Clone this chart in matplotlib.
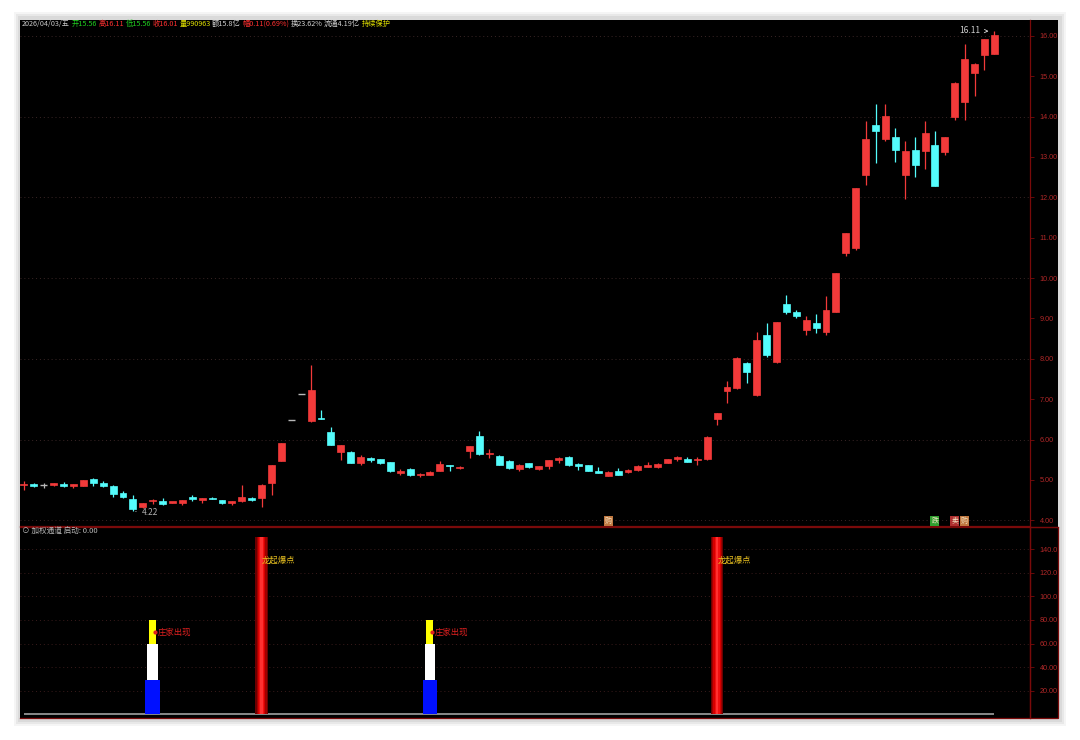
import matplotlib
matplotlib.use("Agg")
import matplotlib.pyplot as plt
from matplotlib.patches import Rectangle

plt.rcParams['font.family'] = ['Noto Sans CJK SC', 'DejaVu Sans']

# ---------------- data ----------------
opens = [4.87, 4.91, 4.87, 4.87, 4.91, 4.86, 4.86, 5.03, 4.92, 4.86,
         4.67, 4.52, 4.33, 4.47, 4.48, 4.44, 4.44, 4.55, 4.50, 4.56,
         4.50, 4.44, 4.47, 4.56, 4.55, 4.93, 5.48, 6.48, 7.14, 6.46,
         6.53, 6.19, 5.69, 5.69, 5.43, 5.55, 5.51, 5.44, 5.18, 5.27,
         5.12, 5.13, 5.22, 5.35, 5.29, 5.71, 6.10, 5.64, 5.60, 5.47,
         5.27, 5.42, 5.27, 5.35, 5.50, 5.57, 5.39, 5.37, 5.19, 5.11,
         5.22, 5.20, 5.25, 5.33, 5.32, 5.43, 5.53, 5.53, 5.49, 5.52,
         6.50, 7.20, 7.28, 7.89, 7.10, 8.59, 7.92, 9.36, 9.16, 8.71,
         8.88, 8.67, 9.16, 10.62, 10.74, 12.55, 13.79, 13.44, 13.49, 12.55,
         13.17, 13.14, 13.29, 13.12, 13.99, 14.36, 15.07, 15.52, 15.56]
highs = [4.97, 4.93, 4.92, 4.93, 4.95, 4.90, 5.00, 5.04, 4.97, 4.87,
         4.72, 4.62, 4.43, 4.54, 4.56, 4.46, 4.51, 4.63, 4.56, 4.58,
         4.51, 4.48, 4.87, 4.58, 4.89, 5.38, 5.92, 6.48, 7.14, 7.85,
         6.73, 6.31, 5.87, 5.71, 5.62, 5.56, 5.52, 5.45, 5.27, 5.29,
         5.17, 5.21, 5.46, 5.36, 5.34, 5.85, 6.22, 5.76, 5.61, 5.50,
         5.39, 5.43, 5.35, 5.50, 5.56, 5.59, 5.41, 5.38, 5.33, 5.21,
         5.29, 5.26, 5.36, 5.45, 5.43, 5.52, 5.60, 5.56, 5.57, 6.08,
         6.67, 7.45, 8.05, 7.93, 8.66, 8.88, 8.92, 9.58, 9.20, 9.05,
         9.10, 9.55, 10.13, 11.12, 12.24, 13.90, 14.30, 14.30, 13.72, 13.40,
         13.50, 13.90, 13.65, 13.50, 14.85, 15.79, 15.32, 15.93, 16.11]
lows = [4.76, 4.82, 4.80, 4.84, 4.82, 4.80, 4.85, 4.84, 4.83, 4.58,
        4.55, 4.22, 4.31, 4.41, 4.39, 4.43, 4.38, 4.47, 4.43, 4.52,
        4.40, 4.38, 4.46, 4.49, 4.34, 4.62, 5.46, 6.48, 7.14, 6.44,
        6.52, 5.86, 5.50, 5.42, 5.37, 5.45, 5.40, 5.20, 5.13, 5.10,
        5.07, 5.12, 5.21, 5.21, 5.28, 5.54, 5.63, 5.55, 5.36, 5.27,
        5.22, 5.30, 5.24, 5.28, 5.43, 5.35, 5.25, 5.21, 5.17, 5.10,
        5.12, 5.18, 5.23, 5.32, 5.30, 5.42, 5.46, 5.44, 5.37, 5.50,
        6.37, 6.90, 7.25, 7.40, 7.08, 8.05, 7.90, 9.10, 9.00, 8.60,
        8.65, 8.60, 9.15, 10.55, 10.70, 12.30, 12.85, 13.40, 12.87, 11.95,
        12.50, 12.70, 12.28, 13.05, 13.92, 13.92, 14.51, 15.15, 15.56]
closes = [4.88, 4.84, 4.87, 4.92, 4.84, 4.90, 4.99, 4.92, 4.84, 4.65,
          4.58, 4.28, 4.42, 4.48, 4.40, 4.45, 4.50, 4.54, 4.55, 4.53,
          4.42, 4.47, 4.58, 4.51, 4.88, 5.37, 5.91, 6.48, 7.14, 7.22,
          6.51, 5.87, 5.86, 5.43, 5.57, 5.49, 5.41, 5.22, 5.19, 5.12,
          5.13, 5.19, 5.40, 5.34, 5.33, 5.84, 5.64, 5.65, 5.37, 5.29,
          5.37, 5.31, 5.34, 5.49, 5.55, 5.37, 5.34, 5.22, 5.18, 5.20,
          5.13, 5.25, 5.34, 5.37, 5.40, 5.51, 5.54, 5.45, 5.50, 6.07,
          6.65, 7.30, 8.03, 7.67, 8.46, 8.09, 8.91, 9.16, 9.06, 8.96,
          8.76, 9.21, 10.12, 11.11, 12.23, 13.44, 13.64, 14.01, 13.17, 13.14,
          12.80, 13.59, 12.28, 13.49, 14.83, 15.42, 15.30, 15.92, 16.01]

# indicator panel
stack_idx = [13, 41]
blue_vals = [29, 29]
white_vals = [31, 31]
yellow_vals = [20, 20]
stack_label = "庄家出现"
burst_idx = [24, 70]
burst_vals = [150, 150]
burst_label = "龙起爆点"

price_ticks = [4, 5, 6, 7, 8, 9, 10, 11, 12, 13, 14, 15, 16]
ind_ticks = [20, 40, 60, 80, 100, 120, 140]
ind_tick_labels = ["20.00", "40.00", "60.00", "80.00", "100.0", "120.0", "140.0"]

signal_idx = [59, 92, 94, 95]
signal_txt = ["购", "跌", "卖", "购"]
signal_col = ["#c07840", "#30a030", "#b03030", "#c07840"]

header = [("2026/04/03/五", "#c8c8c8"), ("开15.56", "#20d020"),
          ("高16.11", "#ff3030"), ("低15.56", "#20d020"),
          ("收16.01", "#ff3030"), ("量990963", "#e0e000"),
          ("额15.8亿", "#d0d0d0"), ("幅0.11(0.69%)", "#ff3030"),
          ("换23.62%", "#d0d0d0"), ("流通4.19亿", "#d0d0d0"),
          ("持续保护", "#e0e000")]

# ---------------- figure ----------------
W, H = 1080, 740
fig = plt.figure(figsize=(W / 100, H / 100), dpi=100, facecolor="white")


def fx(px):
    return px / W


def fy(py):
    return 1 - py / H


# shadow + black panel
for k, a in enumerate([0.04, 0.05, 0.06]):
    d = (3 - k) * 2
    fig.patches.append(Rectangle((fx(20 - d), fy(720 + d)), (1040 + 2 * d) / W,
                                 (702 + 2 * d) / H, transform=fig.transFigure,
                                 facecolor="black", alpha=a, edgecolor="none", zorder=-3))
fig.patches.append(Rectangle((fx(20), fy(718)), 1038 / W, 698 / H, transform=fig.transFigure,
                             facecolor="black", edgecolor="none", zorder=-2))

ax = fig.add_axes([fx(20), fy(526), 1010 / W, 506 / H])
ax2 = fig.add_axes([fx(20), fy(718), 1010 / W, 191 / H])

dark_red = "#7a0a0a"
lab_red = "#b02828"
for a in (ax, ax2):
    a.set_zorder(1)
    a.set_facecolor("black")
    for s in a.spines.values():
        s.set_color(dark_red)
        s.set_linewidth(0.9)
    a.spines["left"].set_visible(False)
    a.spines["top"].set_visible(False)
    a.yaxis.tick_right()
    a.tick_params(axis="y", colors=dark_red, labelcolor=lab_red, labelsize=5.2,
                  length=3, width=0.6, pad=4)
    a.tick_params(axis="x", bottom=False, labelbottom=False)

xmin, xmax = -0.4, 101.6
ax.set_xlim(xmin, xmax)
ax2.set_xlim(xmin, xmax)
ax.set_ylim(3.86, 16.39)
ax2.set_ylim(-3.0, 158.7)

ax.set_yticks(price_ticks)
ax.set_yticklabels([f"{v:.2f}" for v in price_ticks], family=['Liberation Sans', 'DejaVu Sans'])
ax2.set_yticks(ind_ticks)
ax2.set_yticklabels(ind_tick_labels, family=['Liberation Sans', 'DejaVu Sans'])

# grid lines (dotted)
for v in [4, 6, 8, 10, 12, 14, 16]:
    ax.axhline(v, color="#3a2626", lw=0.7, ls=(0, (1, 3)), zorder=0)
for v in ind_ticks:
    ax2.axhline(v, color="#3a1c1c", lw=0.7, ls=(0, (1, 3)), zorder=0)

# candles
RED = "#f23a3a"
CYAN = "#54fcfc"
GRAY = "#b8b8b8"
bw = 0.7
for i, (o, h, l, c) in enumerate(zip(opens, highs, lows, closes)):
    if c > o:
        col = RED
    elif c < o:
        col = CYAN
    else:
        col = GRAY
    ax.vlines(i, l, h, color=col, lw=0.9, zorder=2)
    if abs(c - o) < 1e-9:
        ax.hlines(o, i - bw / 2, i + bw / 2, color=col, lw=1.0, zorder=3)
    else:
        ax.add_patch(Rectangle((i - bw / 2, min(o, c)), bw, max(abs(c - o), 0.03),
                               facecolor=col, edgecolor=col, lw=0.5, zorder=3))

# low / high labels
lo_i = lows.index(min(lows))
ax.annotate(f"{min(lows):.2f}", xy=(lo_i, min(lows)), xytext=(lo_i + 0.9, min(lows) - 0.02),
            color="#b0b0b0", fontsize=6, va="center", ha="left",
            arrowprops=dict(arrowstyle="-", color="#b0b0b0", lw=0.6))
hi_i = highs.index(max(highs))
ax.annotate(f"{max(highs):.2f}", xy=(hi_i - 0.3, max(highs)), xytext=(hi_i - 1.4, max(highs) + 0.02),
            color="#d0d0d0", fontsize=6, va="center", ha="right",
            arrowprops=dict(arrowstyle="->", color="#d0d0d0", lw=0.6))

# signal markers
for i, t, col in zip(signal_idx, signal_txt, signal_col):
    ax.text(i, 3.99, t, fontsize=5, color="#f0e0c0", ha="center", va="center",
            bbox=dict(boxstyle="square,pad=0.15", facecolor=col, edgecolor="none"), zorder=5)

# indicator panel
ax2.hlines(0, 0, len(opens) - 1, color="#a0a0a0", lw=1.2, zorder=2)
for i, b, w_, y_ in zip(stack_idx, blue_vals, white_vals, yellow_vals):
    ax2.bar(i, b, width=1.5, bottom=0, color="#0010ff", zorder=3)
    ax2.bar(i, w_, width=1.05, bottom=b, color="white", zorder=3)
    ax2.bar(i, y_, width=0.7, bottom=b + w_, color="#ffff00", zorder=3)
    top = b + w_ + y_
    ax2.plot(i + 0.25, top - 10, marker="o", ms=2, color="#e02020", zorder=4)
    ax2.text(i + 0.5, top - 10, stack_label, color="#e02020", fontsize=6, va="center",
             ha="left", zorder=4)
for i, v in zip(burst_idx, burst_vals):
    for wd, cl in [(1.25, "#6a0000"), (1.0, "#a00000"), (0.75, "#d40000"),
                   (0.5, "#f01010"), (0.25, "#ff3030")]:
        ax2.bar(i, v, width=wd, bottom=0, color=cl, zorder=3)
    ax2.text(i + 0.05, 130.5, burst_label, color="#e8c020", fontsize=6, va="center",
             ha="left", zorder=4)

# right-bottom box outline and panel divider
fig.patches.append(Rectangle((fx(1030), fy(718)), 28 / W, 191 / H, transform=fig.transFigure,
                             facecolor="none", edgecolor=dark_red, lw=0.9, zorder=5))
fig.lines.append(plt.Line2D([fx(20), fx(1058)], [fy(526.5), fy(526.5)], transform=fig.transFigure,
                            color=dark_red, lw=0.9, zorder=5))

# header texts laid out one after another
fig.canvas.draw()
renderer = fig.canvas.get_renderer()
xpos = 22
for t, col in header:
    tx = fig.text(fx(xpos), fy(24), t, color=col, fontsize=5.2, va="center", ha="left", zorder=6)
    bb = tx.get_window_extent(renderer=renderer)
    xpos += bb.width + 1.5
fig.text(fx(22), fy(531), "⊙ 加权通道 启动: 0.00", color="#b8b8b8", fontsize=5.5,
         va="center", ha="left", zorder=6)

fig.savefig("out.png", dpi=100, facecolor="white")
